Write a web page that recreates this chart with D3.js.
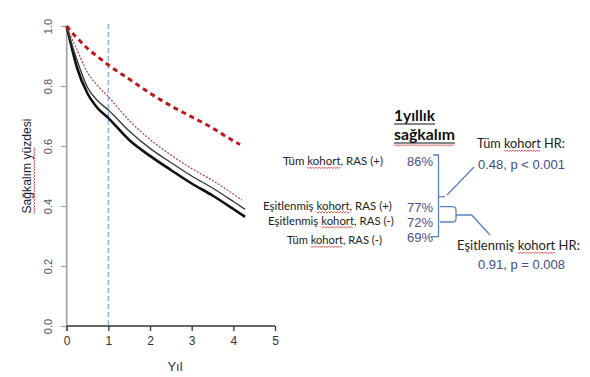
<!DOCTYPE html>
<html><head><meta charset="utf-8">
<script src="https://cdn.jsdelivr.net/npm/d3@7"></script>
<style>body{margin:0;background:#fff}svg{display:block}</style>
</head><body><svg id="c" width="590" height="377"></svg>
<script>
// ---- data ----
const timesRasNegAll   = [0, 0.1, 0.25, 0.5, 0.75, 1, 1.5, 2, 2.5, 3, 3.5, 4, 4.28];
const survRasNegAll    = [1, 0.94, 0.86, 0.775, 0.725, 0.693, 0.62, 0.567, 0.52, 0.475, 0.435, 0.39, 0.364];
const timesRasNegMatch = [0, 0.1, 0.25, 0.5, 0.75, 1, 1.5, 2, 2.5, 3, 3.5, 4, 4.28];
const survRasNegMatch  = [1, 0.95, 0.885, 0.795, 0.75, 0.72, 0.65, 0.592, 0.545, 0.5, 0.46, 0.415, 0.389];
const timesRasPosMatch = [0, 0.1, 0.25, 0.5, 0.75, 1, 1.5, 2, 2.5, 3, 3.5, 4, 4.2];
const survRasPosMatch  = [1, 0.965, 0.92, 0.845, 0.8, 0.764, 0.685, 0.622, 0.57, 0.525, 0.485, 0.44, 0.42];
const timesRasPosAll   = [0, 0.1, 0.25, 0.5, 0.75, 1, 1.5, 2, 2.5, 3, 3.5, 4, 4.16];
const survRasPosAll    = [1, 0.982, 0.96, 0.925, 0.897, 0.87, 0.823, 0.776, 0.734, 0.697, 0.66, 0.617, 0.605];
const xTicks = [0, 1, 2, 3, 4, 5];
const yTicks = [0, 0.2, 0.4, 0.6, 0.8, 1.0];
const markerYear = 1;
const legendLabels = ["Tüm kohort,  RAS (+)", "Eşitlenmiş kohort, RAS (+)", "Eşitlenmiş kohort, RAS (-)", "Tüm kohort,  RAS (-)"];
const oneYearSurvival = ["86%", "77%", "72%", "69%"];
const hrLabels = ["Tüm kohort HR:", "Eşitlenmiş kohort HR:"];
const hrValues = ["0.48, p < 0.001", "0.91, p = 0.008"];

const svg = d3.select("#c");
const x = d3.scaleLinear().domain([0, 5]).range([66.7, 275]);
const y = d3.scaleLinear().domain([0, 1]).range([326, 26]);

function wave(g, x0, x1, yy) {
  let d = "M" + x0 + "," + yy;
  let up = true;
  for (let xx = x0 + 1.5; xx <= x1; xx += 1.5) { d += "L" + xx + "," + (yy + (up ? 1.6 : 0)); up = !up; }
  g.append("path").attr("d", d).attr("fill", "none").attr("stroke", "#e23a3a").attr("stroke-width", 0.8);
}
function fit(t, w) {
  const base = parseFloat(t.attr("font-size"));
  const m = t.node().getComputedTextLength();
  t.attr("font-size", base * w / m);
}
function underlineWord(g, t, word, yy) {
  const s = t.text(); const i = s.indexOf(word);
  const n = t.node();
  const a = n.getStartPositionOfChar(i).x;
  const b = n.getEndPositionOfChar(i + word.length - 1).x;
  wave(g, a, b, yy);
}

// ---- axes ----
const yAxis = svg.append("g").attr("transform", "translate(66.7,0)")
  .call(d3.axisLeft(y).tickValues(yTicks).tickSize(6).tickFormat(d3.format(".1f")));
yAxis.select(".domain").attr("stroke", "#a0a0a0").attr("stroke-width", 1.6).attr("d", "M0," + y(1) + "V" + (y(0) + 5));
yAxis.selectAll(".tick line").attr("stroke", "#a0a0a0").attr("stroke-width", 1.2);
yAxis.selectAll(".tick text").attr("x", 0).attr("y", 0)
  .attr("dy", 0).attr("text-anchor", "middle")
  .attr("transform", "translate(-15,0) rotate(-90)")
  .attr("font-family", "Liberation Sans, Arial, sans-serif").attr("font-size", 11).attr("fill", "#555");

const xAxis = svg.append("g").attr("transform", "translate(0,326)")
  .call(d3.axisBottom(x).tickValues(xTicks).tickSize(5).tickFormat(d3.format("d")));
xAxis.select(".domain").attr("stroke", "#333").attr("stroke-width", 1.5).attr("d", "M" + x(0) + ",0H" + x(5));
xAxis.selectAll(".tick line").attr("stroke", "#333").attr("stroke-width", 1.3);
xAxis.selectAll(".tick text").attr("y", 15).attr("dy", "0.35em")
  .attr("font-family", "Liberation Sans, Arial, sans-serif").attr("font-size", 12).attr("fill", "#333");

// axis titles
const yt = svg.append("g").attr("transform", "translate(31,166) rotate(-90)");
const ytt = yt.append("text").attr("text-anchor", "middle").attr("font-family", "Liberation Sans, Arial, sans-serif")
  .attr("font-size", 14).attr("fill", "#1c1c3a").text("Sağkalım yüzdesi");
fit(ytt, 95);
underlineWord(yt, ytt, "Sağkalım yü", 2.5);
svg.append("text").attr("x", 175).attr("y", 371).attr("text-anchor", "middle")
  .attr("font-family", "Liberation Sans, Arial, sans-serif").attr("font-size", 13).attr("fill", "#333").text("Yıl");

// marker line at 1 year
svg.append("line").attr("x1", x(markerYear)).attr("x2", x(markerYear)).attr("y1", 24).attr("y2", y(0))
  .attr("stroke", "#8db3e2").attr("stroke-width", 1.5).attr("stroke-dasharray", "5,3");

// ---- curves ----
const line = d3.line().x(d => x(d[0])).y(d => y(d[1])).curve(d3.curveMonotoneX);
const series = [
  {t: timesRasNegAll, s: survRasNegAll, stroke: "#111", w: 2.6, dash: null},
  {t: timesRasNegMatch, s: survRasNegMatch, stroke: "#3a3a3a", w: 1.4, dash: null},
  {t: timesRasPosMatch, s: survRasPosMatch, stroke: "#a8404c", w: 1.2, dash: "2,1.5"},
  {t: timesRasPosAll, s: survRasPosAll, stroke: "#c0151c", w: 3, dash: "5,4"}
];
series.forEach(sr => {
  svg.append("path").datum(sr.t.map((t, i) => [t, sr.s[i]])).attr("d", line)
    .attr("fill", "none").attr("stroke", sr.stroke).attr("stroke-width", sr.w)
    .attr("stroke-dasharray", sr.dash);
});

// ---- annotations ----
const cal = "Lato, Open Sans, sans-serif";
const ar = "Liberation Sans, Arial, sans-serif";
const ann = svg.append("g");

// heading
const h1 = ann.append("text").attr("x", 394).attr("y", 121).attr("font-family", cal).attr("font-weight", "bold")
  .attr("font-size", 13).attr("fill", "#111").text("1yıllık");
fit(h1, 41);
ann.append("line").attr("x1", 394).attr("x2", 435).attr("y1", 124).attr("y2", 124).attr("stroke", "#111").attr("stroke-width", 1);
const h2 = ann.append("text").attr("x", 394).attr("y", 139.5).attr("font-family", cal).attr("font-weight", "bold")
  .attr("font-size", 13).attr("fill", "#111").text("sağkalım");
fit(h2, 61);
ann.append("line").attr("x1", 394).attr("x2", 455).attr("y1", 143).attr("y2", 143).attr("stroke", "#111").attr("stroke-width", 1);
wave(ann, 394, 455, 144.5);

// series labels
const labX = [283, 263, 268, 287];
const labW = [100, 129, 126, 95];
const labY = [165, 209.5, 224.5, 244];
legendLabels.forEach((l, i) => {
  const t = ann.append("text").attr("x", labX[i]).attr("y", labY[i]).attr("font-family", cal)
    .attr("font-size", 11).attr("fill", "#222").text(l);
  fit(t, labW[i]);
  underlineWord(ann, t, "kohort", labY[i] + 2);
});

// percentages
const pctY = [166, 212, 226.5, 241.5];
oneYearSurvival.forEach((p, i) => {
  const t = ann.append("text").attr("x", 407).attr("y", pctY[i]).attr("font-family", ar)
    .attr("font-size", 14).attr("fill", "#4e4f8e").text(p);
  fit(t, 26);
});

// brackets
const bc = "#5a82c0";
ann.append("path").attr("d", "M433,155H438.5V236.7H431").attr("fill", "none").attr("stroke", bc).attr("stroke-width", 1.3);
ann.append("path").attr("d", "M438.5,196.7H445").attr("fill", "none").attr("stroke", bc).attr("stroke-width", 1.3);
ann.append("path").attr("d", "M447,195L474,167").attr("fill", "none").attr("stroke", bc).attr("stroke-width", 1.3);
ann.append("path").attr("d", "M440,206.7H452Q456,206.7 456,210V215H471.7L490,235M456,215V219Q456,222 452,222H440")
  .attr("fill", "none").attr("stroke", bc).attr("stroke-width", 1.3);

// HR texts
const hrX = [477, 457], hrW = [88, 123], hrY = [148, 250];
hrLabels.forEach((l, i) => {
  const t = ann.append("text").attr("x", hrX[i]).attr("y", hrY[i]).attr("font-family", cal)
    .attr("font-size", 13).attr("fill", "#222").text(l);
  fit(t, hrW[i]);
  underlineWord(ann, t, "kohort", hrY[i] + 2);
});
const hvY = [168.5, 268.5];
hrValues.forEach((v, i) => {
  const t = ann.append("text").attr("x", 478).attr("y", hvY[i]).attr("font-family", ar)
    .attr("font-size", 13).attr("fill", "#3e4a8a").text(v);
  fit(t, 87);
});
</script></body></html>
